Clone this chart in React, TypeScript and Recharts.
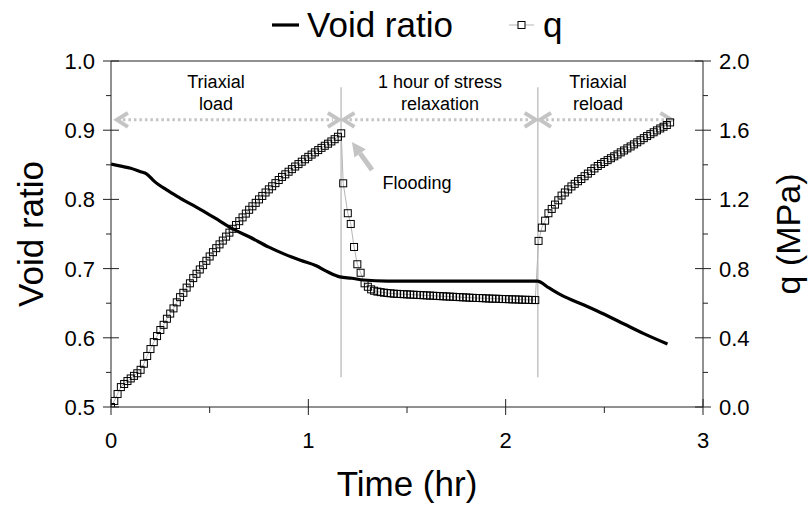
import React from 'react';
import { ComposedChart, Line, XAxis, YAxis, ReferenceLine, ReferenceDot } from 'recharts';

const FONT = '"Liberation Sans", Arial, Helvetica, sans-serif';

// ---- Void ratio series (time in hours) ----
const voidTime = [0, 0.05, 0.1, 0.15, 0.18, 0.22, 0.28, 0.35, 0.45, 0.55, 0.62, 0.7, 0.8, 0.87, 0.96, 1.04, 1.1, 1.16, 1.22, 1.28, 1.4, 1.8, 2.16, 2.22, 2.28, 2.4, 2.5, 2.6, 2.7, 2.82];
const voidValue = [0.851, 0.848, 0.845, 0.84, 0.837, 0.826, 0.814, 0.802, 0.786, 0.769, 0.757, 0.746, 0.731, 0.722, 0.712, 0.704, 0.695, 0.688, 0.686, 0.6835, 0.682, 0.682, 0.682, 0.672, 0.662, 0.647, 0.634, 0.62, 0.606, 0.591];

// ---- q series (time in minutes) ----
const qLoadMinutes = [0, 1, 2, 3, 4, 5, 6, 7, 8, 9, 10, 11, 12, 13, 14, 15, 16, 17, 18, 19, 20, 21, 22, 23, 24, 25, 26, 27, 28, 29, 30, 31, 32, 33, 34, 35, 36, 37, 38, 39, 40, 41, 42, 43, 44, 45, 46, 47, 48, 49, 50, 51, 52, 53, 54, 55, 56, 57, 58, 59, 60, 61, 62, 63, 64, 65, 66, 67, 68, 69, 70];
const qLoadValue = [0.0, 0.035, 0.075, 0.115, 0.133, 0.15, 0.165, 0.18, 0.195, 0.215, 0.25, 0.295, 0.335, 0.375, 0.41, 0.445, 0.475, 0.51, 0.54, 0.57, 0.605, 0.635, 0.66, 0.69, 0.715, 0.745, 0.77, 0.795, 0.82, 0.845, 0.87, 0.895, 0.918, 0.94, 0.962, 0.985, 1.008, 1.03, 1.052, 1.074, 1.096, 1.118, 1.14, 1.16, 1.18, 1.2, 1.22, 1.24, 1.258, 1.276, 1.294, 1.312, 1.33, 1.345, 1.36, 1.375, 1.39, 1.404, 1.418, 1.432, 1.446, 1.459, 1.472, 1.485, 1.498, 1.51, 1.522, 1.535, 1.548, 1.562, 1.582];

const qRelaxMinutes = [70.6, 72.0, 72.9, 73.9, 74.9, 75.9, 77.1, 78.1, 79.1, 80, 81, 82, 83, 84, 85, 86, 87, 88, 89, 90, 91, 92, 93, 94, 95, 96, 97, 98, 99, 100, 101, 102, 103, 104, 105, 106, 107, 108, 109, 110, 111, 112, 113, 114, 115, 116, 117, 118, 119, 120, 121, 122, 123, 124, 125, 126, 127, 128, 129];
const qRelaxValue = [1.293, 1.12, 1.058, 0.925, 0.825, 0.776, 0.715, 0.695, 0.68, 0.672, 0.667, 0.664, 0.661, 0.659, 0.657, 0.655, 0.654, 0.653, 0.652, 0.651, 0.65, 0.649, 0.648, 0.647, 0.646, 0.645, 0.644, 0.643, 0.642, 0.641, 0.64, 0.639, 0.638, 0.637, 0.636, 0.635, 0.634, 0.633, 0.632, 0.631, 0.63, 0.63, 0.629, 0.628, 0.627, 0.626, 0.626, 0.625, 0.624, 0.624, 0.623, 0.622, 0.622, 0.621, 0.62, 0.62, 0.619, 0.619, 0.618];

const qReloadMinutes = [130, 131, 132, 133, 134, 135, 136, 137, 138, 139, 140, 141, 142, 143, 144, 145, 146, 147, 148, 149, 150, 151, 152, 153, 154, 155, 156, 157, 158, 159, 160, 161, 162, 163, 164, 165, 166, 167, 168, 169, 170];
const qReloadValue = [0.96, 1.037, 1.077, 1.12, 1.145, 1.17, 1.195, 1.222, 1.24, 1.258, 1.275, 1.29, 1.305, 1.318, 1.334, 1.349, 1.364, 1.379, 1.393, 1.405, 1.416, 1.427, 1.438, 1.449, 1.46, 1.472, 1.483, 1.495, 1.506, 1.518, 1.53, 1.542, 1.554, 1.566, 1.577, 1.588, 1.599, 1.61, 1.62, 1.63, 1.645];

// ---- Axis ticks ----
const xTicks = [0, 0.5, 1, 1.5, 2, 2.5, 3];
const leftTicks = [0.5, 0.55, 0.6, 0.65, 0.7, 0.75, 0.8, 0.85, 0.9, 0.95, 1.0];
const rightTicks = [0, 0.2, 0.4, 0.6, 0.8, 1.0, 1.2, 1.4, 1.6, 1.8, 2.0];

// ---- Annotations ----
const phaseLines = [1.166, 2.163];
const phaseLineRange = [0.543, 0.962];
const phaseArrowY = 0.915;
const phaseArrows = [[0.03, 1.155], [1.178, 2.152], [2.174, 2.84]];
const phaseLabels = [
  { t: 0.532, e: 0.954, lines: ['Triaxial', 'load'] },
  { t: 1.667, e: 0.954, lines: ['1 hour of stress', 'relaxation'] },
  { t: 2.468, e: 0.954, lines: ['Triaxial', 'reload'] },
];
const floodingLabel = { t: 1.551, e: 0.8237, text: 'Flooding' };
const floodingArrow = { tailT: 1.323, tailE: 0.8425, tipT: 1.221, tipE: 0.883 };

const voidData = voidTime.map((t, i) => ({ t, e: voidValue[i] }));
const qData = [
  ...qLoadMinutes.map((m, i) => ({ t: m / 60, q: qLoadValue[i] })),
  ...qRelaxMinutes.map((m, i) => ({ t: m / 60, q: qRelaxValue[i] })),
  ...qReloadMinutes.map((m, i) => ({ t: m / 60, q: qReloadValue[i] })),
];

const AX = '#222';
const GRAY = '#c4c4c4';

const isMult = (v: number, step: number) => Math.abs(v / step - Math.round(v / step)) < 1e-6;

const LeftTick = (props: any) => {
  const { x, y, payload } = props;
  const v = payload.value;
  if (!isMult(v, 0.1)) return <line x1={x - 5} x2={x} y1={y} y2={y} stroke={AX} strokeWidth={1} />;
  return (
    <g>
      <line x1={x - 8} x2={x + 8} y1={y} y2={y} stroke={AX} strokeWidth={1} />
      <text x={x - 16} y={y + 8} textAnchor="end" fontSize={22} fontFamily={FONT} fill="#000">{v.toFixed(1)}</text>
    </g>
  );
};

const RightTick = (props: any) => {
  const { x, y, payload } = props;
  const v = payload.value;
  if (!isMult(v, 0.4)) return <line x1={x} x2={x + 5} y1={y} y2={y} stroke={AX} strokeWidth={1} />;
  return (
    <g>
      <line x1={x - 8} x2={x + 8} y1={y} y2={y} stroke={AX} strokeWidth={1} />
      <text x={x + 16} y={y + 8} textAnchor="start" fontSize={22} fontFamily={FONT} fill="#000">{v.toFixed(1)}</text>
    </g>
  );
};

const BottomTick = (props: any) => {
  const { x, y, payload } = props;
  const v = payload.value;
  if (!isMult(v, 1)) return <line x1={x} x2={x} y1={y} y2={y + 6} stroke={AX} strokeWidth={1} />;
  return (
    <g>
      <line x1={x} x2={x} y1={y - 8} y2={y + 8} stroke={AX} strokeWidth={1} />
      <text x={x} y={y + 41} textAnchor="middle" fontSize={22} fontFamily={FONT} fill="#000">{String(v)}</text>
    </g>
  );
};

const SquareDot = (props: any) => {
  const { cx, cy, index } = props;
  if (cx == null || cy == null) return <g key={index} />;
  return <rect key={index} x={cx - 3.5} y={cy - 3.5} width={7} height={7} fill="none" stroke="#000" strokeWidth={1} />;
};

const chevron = (x: number, y: number, dir: number, key: string) => (
  <polyline key={key} points={`${x - dir * 11},${y - 7} ${x},${y} ${x - dir * 11},${y + 7}`} fill="none" stroke={GRAY} strokeWidth={4} strokeLinejoin="miter" />
);

const PhaseArrowShape = (props: any) => {
  const { x1, y1, x2, y2 } = props;
  if (x1 == null) return null;
  return (
    <g>
      <line x1={x1 + 6} y1={y1} x2={x2 - 6} y2={y2} stroke={GRAY} strokeWidth={3} strokeDasharray="2.5 3" />
      {chevron(x1, y1, -1, 'l')}
      {chevron(x2, y2, 1, 'r')}
    </g>
  );
};

const FloodArrowShape = (props: any) => {
  const { x1, y1, x2, y2 } = props;
  if (x1 == null) return null;
  const dx = x2 - x1;
  const dy = y2 - y1;
  const len = Math.sqrt(dx * dx + dy * dy);
  const ux = dx / len;
  const uy = dy / len;
  const headLen = 14;
  const headW = 7;
  const bx = x2 - ux * headLen;
  const by = y2 - uy * headLen;
  return (
    <g>
      <line x1={x1} y1={y1} x2={bx} y2={by} stroke={GRAY} strokeWidth={5} />
      <polygon points={`${x2},${y2} ${bx - uy * headW},${by + ux * headW} ${bx + uy * headW},${by - ux * headW}`} fill={GRAY} />
    </g>
  );
};

const makeTextShape = (lines: string[]) => (props: any) => {
  const { cx, cy } = props;
  if (cx == null) return null;
  const lh = 22;
  const top = cy - ((lines.length - 1) * lh) / 2;
  return (
    <g>
      {lines.map((l, i) => (
        <text key={i} x={cx} y={top + i * lh + 6.5} textAnchor="middle" fontSize={18} fontFamily={FONT} fill="#000">{l}</text>
      ))}
    </g>
  );
};

export default function App() {
  return (
    <div style={{ position: 'absolute', left: 0, top: 0, width: 809, height: 511, background: '#fff' }}>
      <ComposedChart width={809} height={511} margin={{ top: 61, right: 46, bottom: 64, left: 51 }}>
        <XAxis
          xAxisId="x"
          dataKey="t"
          type="number"
          domain={[0, 3]}
          ticks={xTicks}
          interval={0}
          tickSize={0}
          tickMargin={0}
          tick={<BottomTick />}
          tickLine={false}
          axisLine={{ stroke: AX, strokeWidth: 1 }}
          height={40}
          allowDataOverflow
        />
        <YAxis
          yAxisId="left"
          orientation="left"
          type="number"
          domain={[0.5, 1.0]}
          ticks={leftTicks}
          interval={0}
          tickSize={0}
          tickMargin={0}
          tick={<LeftTick />}
          tickLine={false}
          axisLine={{ stroke: AX, strokeWidth: 1 }}
          width={60}
          allowDataOverflow
        />
        <YAxis
          yAxisId="right"
          orientation="right"
          type="number"
          domain={[0, 2]}
          ticks={rightTicks}
          interval={0}
          tickSize={0}
          tickMargin={0}
          tick={<RightTick />}
          tickLine={false}
          axisLine={{ stroke: AX, strokeWidth: 1 }}
          width={60}
          allowDataOverflow
        />
        <ReferenceLine xAxisId="x" yAxisId="left" y={1.0} stroke={AX} strokeWidth={1} />

        {phaseLines.map((t, i) => (
          <ReferenceLine
            key={'pl' + i}
            xAxisId="x"
            yAxisId="left"
            segment={[{ x: t, y: phaseLineRange[0] }, { x: t, y: phaseLineRange[1] }]}
            stroke={GRAY}
            strokeWidth={1.5}
          />
        ))}
        {phaseArrows.map((a, i) => (
          <ReferenceLine
            key={'pa' + i}
            xAxisId="x"
            yAxisId="left"
            segment={[{ x: a[0], y: phaseArrowY }, { x: a[1], y: phaseArrowY }]}
            shape={PhaseArrowShape}
          />
        ))}
        <ReferenceLine
          xAxisId="x"
          yAxisId="left"
          segment={[{ x: floodingArrow.tailT, y: floodingArrow.tailE }, { x: floodingArrow.tipT, y: floodingArrow.tipE }]}
          shape={FloodArrowShape}
        />
        {phaseLabels.map((p, i) => (
          <ReferenceDot key={'lab' + i} xAxisId="x" yAxisId="left" x={p.t} y={p.e} r={0} shape={makeTextShape(p.lines)} />
        ))}
        <ReferenceDot xAxisId="x" yAxisId="left" x={floodingLabel.t} y={floodingLabel.e} r={0} shape={makeTextShape([floodingLabel.text])} />

        <Line
          xAxisId="x"
          yAxisId="right"
          data={qData}
          dataKey="q"
          type="linear"
          stroke="#b5b5b5"
          strokeWidth={1}
          dot={SquareDot}
          activeDot={false}
          isAnimationActive={false}
        />
        <Line
          xAxisId="x"
          yAxisId="left"
          data={voidData}
          dataKey="e"
          type="monotone"
          stroke="#000"
          strokeWidth={3.2}
          dot={false}
          activeDot={false}
          isAnimationActive={false}
        />
      </ComposedChart>
      <svg width={809} height={511} style={{ position: 'absolute', left: 0, top: 0, pointerEvents: 'none' }}>
        <line x1={272} x2={299} y1={25} y2={25} stroke="#000" strokeWidth={3.2} />
        <text x={307} y={37} fontSize={35} fontFamily={FONT} fill="#000">Void ratio</text>
        <line x1={509} x2={534} y1={25} y2={25} stroke="#b5b5b5" strokeWidth={1} />
        <rect x={518} y={21.5} width={7} height={7} fill="#fff" stroke="#000" strokeWidth={1} />
        <text x={543} y={37} fontSize={35} fontFamily={FONT} fill="#000">q</text>
        <text transform="translate(43,234) rotate(-90)" textAnchor="middle" fontSize={35} fontFamily={FONT} fill="#000">Void ratio</text>
        <text transform="translate(800,234) rotate(-90)" textAnchor="middle" fontSize={34} fontFamily={FONT} fill="#000">q (MPa)</text>
        <text x={407} y={496} textAnchor="middle" fontSize={35} fontFamily={FONT} fill="#000">Time (hr)</text>
      </svg>
    </div>
  );
}
